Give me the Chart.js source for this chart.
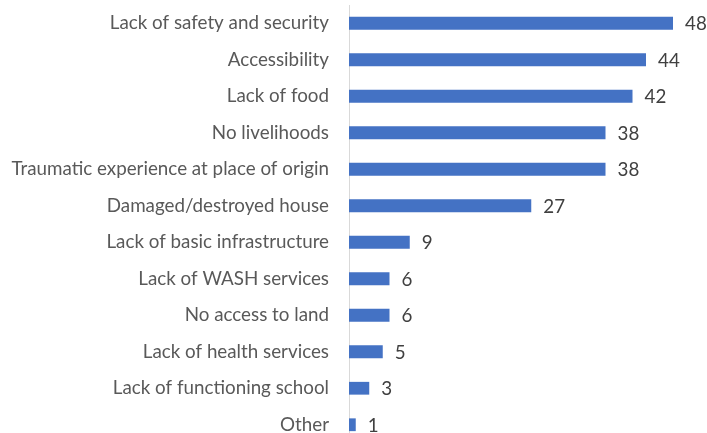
<!doctype html>
<html>
<head>
<title>Reasons for not returning</title>
<script src="https://cdn.jsdelivr.net/npm/chart.js@4"></script>
<style>
	html, body { margin: 0; padding: 0; overflow: hidden; background: #fff; }
	#wrap { width: 707px; height: 446px; }
</style>
</head>
<body>
<div id="wrap"><canvas id="canvas"></canvas></div>
<script>
	var reasons = [
		'Lack of safety and security',
		'Accessibility',
		'Lack of food',
		'No livelihoods',
		'Traumatic experience at place of origin',
		'Damaged/destroyed house',
		'Lack of basic infrastructure',
		'Lack of WASH services',
		'No access to land',
		'Lack of health services',
		'Lack of functioning school',
		'Other'
	];
	var counts = [48, 44, 42, 38, 38, 27, 9, 6, 6, 5, 3, 1];

	var fontFamily = 'Lato, "Open Sans", sans-serif';

	// write the count just past the end of each bar
	var valueLabels = {
		id: 'valueLabels',
		afterDatasetsDraw: function(chart) {
			var ctx = chart.ctx;
			var meta = chart.getDatasetMeta(0);
			ctx.save();
			ctx.font = '18.8px ' + fontFamily;
			ctx.fillStyle = '#404040';
			ctx.textAlign = 'left';
			ctx.textBaseline = 'middle';
			meta.data.forEach(function(bar, i) {
				ctx.fillText(String(counts[i]), bar.x + 12, bar.y + 1);
			});
			ctx.restore();
		}
	};

	var config = {
		type: 'bar',
		data: {
			labels: reasons,
			datasets: [{
				data: counts,
				backgroundColor: '#4472C4',
				borderWidth: 0,
				barPercentage: 0.35,
				categoryPercentage: 1
			}]
		},
		options: {
			indexAxis: 'y',
			responsive: true,
			maintainAspectRatio: false,
			animation: false,
			layout: { padding: { top: 5, bottom: 3, left: 0, right: 7 } },
			plugins: {
				legend: { display: false },
				tooltip: { enabled: false }
			},
			scales: {
				x: { display: false, min: 0, max: 52 },
				y: {
					// fixed label column, no extra room above/below the bands
					afterFit: function(scale) {
						scale.width = 349;
						scale.paddingTop = 0;
						scale.paddingBottom = 0;
					},
					grid: { display: false, drawTicks: false },
					border: { display: true, color: '#d9d9d9', width: 1 },
					ticks: {
						padding: 20,
						color: '#595959',
						font: { family: fontFamily, size: 18.8 }
					}
				}
			}
		},
		plugins: [valueLabels]
	};

	window.onload = function() {
		var ctx = document.getElementById('canvas').getContext('2d');
		window.myBar = new Chart(ctx, config);
	};
</script>
</body>
</html>
